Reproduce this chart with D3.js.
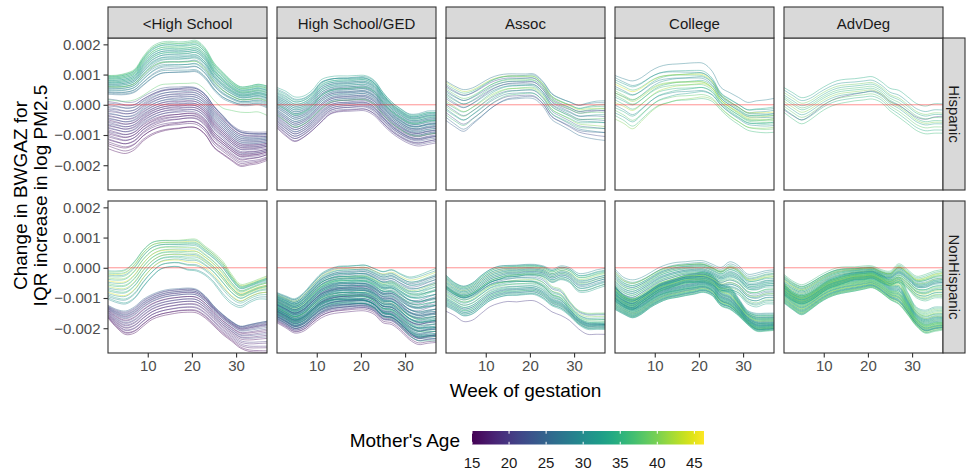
<!DOCTYPE html>
<html><head><meta charset="utf-8">
<script src="https://cdn.jsdelivr.net/npm/d3@7"></script>
<style>body{margin:0;background:#fff;} svg{display:block;font-family:"Liberation Sans",Arial,sans-serif;}</style>
</head><body><svg id="c" width="966" height="474"></svg>
<script>
// ---------------- DATA ----------------
const educationLevels = ["<High School", "High School/GED", "Assoc", "College", "AdvDeg"];
const ethnicities = ["Hispanic", "NonHispanic"];
const weeks = [1,3,5,7,9,11,13,15,17,19,21,23,25,27,29,31,33,35,37];
const xTicks = [10, 20, 30];
const yTicks = [-0.002, -0.001, 0, 0.001, 0.002];
const ageTicks = [15, 20, 25, 30, 35, 40, 45];
const ageDomain = [15, 46.3];

// envelope curves (value at each week);
// lines = [mother's age, position in envelope at week 1, position in envelope at week 37]
const hispLtHS_young_low  = [-0.00145,-0.00156,-0.00162,-0.0015,-0.00121,-0.00102,-0.00091,-0.00085,-0.00082,-0.00078,-0.0008,-0.00102,-0.00145,-0.00167,-0.00187,-0.00205,-0.002,-0.00195,-0.00184];
const hispLtHS_young_high = [0.00019,0.00016,0.0001,0.00012,0.0003,0.00046,0.00058,0.00063,0.00064,0.00066,0.00062,0.00042,0.00002,-0.0003,-0.00062,-0.00082,-0.00088,-0.0009,-0.0009];
const hispLtHS_young_lines = [[15,0.0,0.05],[16,0.06,0.0],[15,0.1,0.2],[17,0.14,0.08],[16,0.18,0.3],[18,0.2,0.12],[17,0.24,0.35],[19,0.27,0.2],[16,0.3,0.4],[18,0.33,0.25],[20,0.35,0.5],[17,0.38,0.3],[19,0.41,0.55],[21,0.43,0.35],[18,0.46,0.6],[20,0.48,0.4],[22,0.5,0.65],[19,0.53,0.45],[21,0.55,0.7],[17,0.58,0.5],[23,0.6,0.75],[20,0.62,0.55],[22,0.65,0.8],[18,0.67,0.6],[21,0.7,0.85],[24,0.72,0.65],[19,0.75,0.9],[22,0.78,0.7],[20,0.8,0.95],[23,0.83,0.75],[21,0.86,1.0],[25,0.89,0.8],[22,0.92,0.95],[20,0.95,0.85],[23,1.0,0.92]];
const hispLtHS_old_low  = [0.00035,0.00033,0.00033,0.0004,0.00062,0.00085,0.001,0.00103,0.00104,0.00105,0.00106,0.00084,0.00046,0.00019,0.00006,-0.00003,-0.00003,0.0,-0.0001];
const hispLtHS_old_high = [0.00097,0.00098,0.00104,0.00117,0.0016,0.00193,0.00207,0.0021,0.00208,0.0021,0.00213,0.00188,0.00139,0.00108,0.00079,0.0006,0.00062,0.00068,0.00062];
const hispLtHS_old_lines = [[26,0.0,0.1],[27,0.06,0.0],[25,0.1,0.25],[29,0.14,0.05],[28,0.2,0.35],[30,0.25,0.15],[27,0.3,0.45],[31,0.34,0.2],[29,0.38,0.55],[32,0.42,0.3],[30,0.46,0.6],[33,0.5,0.4],[28,0.53,0.7],[31,0.56,0.45],[34,0.6,0.75],[32,0.63,0.5],[30,0.66,0.8],[35,0.7,0.55],[33,0.73,0.85],[31,0.76,0.6],[36,0.8,0.9],[34,0.83,0.65],[32,0.86,0.95],[37,0.89,0.7],[35,0.92,1.0],[33,0.95,0.8],[38,0.98,0.9],[36,1.0,1.0],[38,-0.3,-0.35],[40,0.4,0.3]];

const hispHS_low  = [-0.0008,-0.00107,-0.00126,-0.00113,-0.0009,-0.00063,-0.00036,-0.00027,-0.00025,-0.00023,-0.00023,-0.00038,-0.00068,-0.00095,-0.00115,-0.0013,-0.00137,-0.00132,-0.00126];
const hispHS_high = [0.00057,0.00045,0.00027,0.0003,0.0005,0.00085,0.00095,0.00098,0.00098,0.001,0.001,0.00085,0.00045,0.00012,-0.0001,-0.00028,-0.00028,-0.0002,-0.0002];
const hispHS_lines = [[17,0.02,0.1],[19,0.05,0.0],[18,0.08,0.2],[21,0.1,0.05],[20,0.13,0.25],[22,0.15,0.1],[19,0.18,0.3],[23,0.2,0.15],[21,0.22,0.35],[24,0.25,0.2],[20,0.27,0.4],[22,0.3,0.22],[25,0.32,0.45],[23,0.34,0.3],[21,0.37,0.5],[26,0.39,0.33],[24,0.41,0.55],[22,0.43,0.38],[27,0.45,0.6],[25,0.47,0.4],[23,0.5,0.62],[28,0.52,0.45],[26,0.54,0.68],[24,0.56,0.5],[29,0.58,0.72],[27,0.6,0.52],[25,0.62,0.75],[30,0.64,0.58],[28,0.66,0.8],[26,0.68,0.6],[31,0.7,0.85],[29,0.72,0.65],[27,0.74,0.88],[32,0.76,0.7],[30,0.78,0.92],[28,0.8,0.75],[33,0.82,0.95],[31,0.85,0.78],[29,0.87,1.0],[34,0.9,0.82],[32,0.93,0.9],[30,0.96,0.85],[36,0.6,0.7],[38,0.35,0.3],[33,1.0,0.95]];

const hispAssoc_low  = [-0.00052,-0.00074,-0.00091,-0.00069,-0.00045,-0.0002,0.0,0.00013,0.00016,0.00019,0.00016,-0.00009,-0.00052,-0.00069,-0.00085,-0.00102,-0.0011,-0.00115,-0.00118];
const hispAssoc_high = [0.00079,0.00062,0.00051,0.00057,0.00073,0.0009,0.001,0.00104,0.00104,0.00104,0.00104,0.00079,0.0004,0.00024,0.00013,0.00002,0.00008,0.00013,0.00013];
const hispAssoc_lines = [[24,0.0,0.2],[26,0.08,0.0],[36,0.14,0.3],[22,0.2,0.1],[34,0.26,0.45],[28,0.3,0.2],[38,0.35,0.55],[25,0.4,0.3],[32,0.45,0.65],[40,0.5,0.35],[23,0.55,0.75],[30,0.6,0.45],[36,0.64,0.8],[26,0.68,0.5],[33,0.72,0.9],[24,0.76,0.6],[38,0.8,0.7],[29,0.84,1.0],[22,0.88,0.75],[35,0.92,0.85],[42,0.97,0.8],[27,1.0,0.95]];

const hispCollege_low  = [-0.00047,-0.00063,-0.00082,-0.00058,-0.0003,-0.00009,0.0,0.00008,0.0001,0.00013,0.00016,0.00008,-0.0002,-0.00047,-0.00067,-0.00085,-0.00091,-0.00093,-0.00091];
const hispCollege_high = [0.00097,0.00086,0.00079,0.0009,0.00111,0.00126,0.00133,0.00135,0.00137,0.00139,0.00137,0.00111,0.00057,0.0004,0.00024,0.00008,0.00013,0.00016,0.00021];
const hispCollege_lines = [[40,0.0,0.15],[36,0.08,0.0],[32,0.14,0.3],[38,0.2,0.1],[34,0.26,0.4],[30,0.32,0.2],[42,0.38,0.5],[35,0.44,0.25],[33,0.5,0.55],[37,0.55,0.3],[31,0.6,0.65],[39,0.65,0.35],[34,0.7,0.75],[29,0.75,0.45],[44,0.8,0.6],[36,0.85,0.5],[32,0.9,0.7],[30,0.95,0.55],[28,1.0,1.0],[41,0.6,0.4]];

const hispAdv_low  = [-0.00025,-0.00047,-0.00063,-0.00049,-0.00027,-0.00009,0.00002,0.00008,0.00013,0.00016,0.00019,0.00008,-0.0002,-0.00041,-0.00063,-0.00085,-0.00096,-0.00094,-0.00094];
const hispAdv_high = [0.00057,0.0004,0.00024,0.00032,0.00051,0.00068,0.00081,0.00086,0.00088,0.00092,0.00095,0.00079,0.00057,0.00051,0.0003,0.00008,0.0,0.00008,0.00008];
const hispAdv_lines = [[21,0.1,0.55],[36,0.0,0.0],[34,0.15,0.1],[38,0.25,0.2],[32,0.35,0.3],[40,0.45,0.35],[35,0.55,0.4],[37,0.62,0.5],[33,0.7,0.6],[39,0.8,0.65],[31,0.9,0.75],[34,1.0,0.95]];

const nonLtHS_young_low  = [-0.00166,-0.00199,-0.00221,-0.00216,-0.00193,-0.00171,-0.0016,-0.00154,-0.00149,-0.00147,-0.00149,-0.00166,-0.00193,-0.00221,-0.00243,-0.00266,-0.00277,-0.00279,-0.0028];
const nonLtHS_young_high = [-0.00124,-0.00138,-0.00143,-0.00129,-0.00104,-0.00088,-0.00077,-0.00071,-0.00069,-0.00067,-0.00071,-0.00093,-0.00127,-0.00154,-0.00177,-0.00193,-0.00188,-0.00182,-0.00177];
const nonLtHS_young_lines = [[15,0.0,0.0],[17,0.05,0.15],[16,0.1,0.05],[18,0.15,0.3],[19,0.2,0.2],[16,0.25,0.45],[20,0.3,0.35],[17,0.35,0.55],[21,0.4,0.5],[18,0.45,0.65],[22,0.5,0.6],[19,0.55,0.75],[16,0.6,0.7],[20,0.65,0.85],[23,0.7,0.8],[18,0.74,0.9],[21,0.78,0.88],[24,0.82,0.95],[19,0.86,0.92],[22,0.9,1.0],[20,0.95,0.97],[25,1.0,1.0]];
const nonLtHS_old_low  = [-0.00104,-0.00116,-0.00121,-0.00104,-0.00066,-0.00032,-0.00007,0.0,0.0,-0.0001,-0.00013,-0.00027,-0.00054,-0.00093,-0.00121,-0.00132,-0.00116,-0.00104,-0.00104];
const nonLtHS_old_high = [-0.0001,-0.0001,-0.00004,0.00023,0.00062,0.00087,0.00093,0.00093,0.00093,0.00096,0.00096,0.00073,0.00051,0.00023,-0.00021,-0.00054,-0.00049,-0.00038,-0.00027];
const nonLtHS_old_lines = [[30,0.0,0.1],[32,0.05,0.0],[29,0.1,0.3],[34,0.15,0.2],[31,0.2,0.45],[44,0.25,0.3],[33,0.3,0.55],[36,0.35,0.4],[30,0.4,0.6],[42,0.45,0.5],[35,0.5,0.7],[38,0.55,0.55],[32,0.6,0.75],[45,0.65,0.6],[34,0.7,0.85],[40,0.75,0.7],[37,0.8,0.9],[31,0.85,0.8],[43,0.88,0.95],[36,0.92,0.85],[39,0.96,1.0],[33,1.0,0.9]];

const nonHS_low  = [-0.00182,-0.00199,-0.00216,-0.0021,-0.00188,-0.00166,-0.00154,-0.00149,-0.00146,-0.00143,-0.00143,-0.00154,-0.00182,-0.00188,-0.0021,-0.00238,-0.00254,-0.0025,-0.00247];
const nonHS_high = [-0.00082,-0.00093,-0.00102,-0.00082,-0.00049,-0.00018,-0.00002,0.00007,0.00008,0.0001,0.00011,0.0,-0.0001,-0.00004,-0.00018,-0.00029,-0.00024,-0.00013,-0.00002];
const nonHS_lines = [[17,0.0,0.0],[19,0.03,0.1],[16,0.06,0.02],[22,0.08,0.15],[20,0.1,0.05],[25,0.12,0.2],[18,0.14,0.08],[28,0.16,0.1],[23,0.18,0.25],[30,0.2,0.12],[21,0.21,0.3],[27,0.23,0.15],[32,0.25,0.18],[24,0.27,0.35],[29,0.28,0.2],[19,0.3,0.4],[31,0.32,0.22],[26,0.33,0.45],[35,0.35,0.25],[22,0.37,0.5],[28,0.38,0.28],[33,0.4,0.3],[25,0.42,0.55],[30,0.43,0.32],[20,0.45,0.6],[38,0.47,0.35],[27,0.48,0.62],[32,0.5,0.38],[24,0.52,0.65],[29,0.53,0.4],[34,0.55,0.7],[26,0.57,0.42],[31,0.58,0.72],[22,0.6,0.45],[36,0.62,0.75],[28,0.63,0.5],[33,0.65,0.78],[25,0.67,0.52],[40,0.68,0.8],[30,0.7,0.55],[27,0.72,0.82],[35,0.74,0.6],[23,0.76,0.85],[32,0.78,0.65],[29,0.8,0.88],[37,0.82,0.7],[26,0.84,0.9],[31,0.86,0.75],[34,0.88,0.92],[28,0.9,0.8],[42,0.92,0.95],[30,0.94,0.85],[33,0.96,1.0],[27,0.98,0.9],[31,1.0,0.97],[29,0.5,0.3],[30,0.35,0.12],[28,0.25,0.08],[31,0.45,0.2],[26,0.6,0.35],
  [24,0.15,0.05],[27,0.22,0.1],[29,0.3,0.15],[26,0.36,0.18],[31,0.4,0.22],[28,0.46,0.25],[33,0.5,0.3],[30,0.55,0.35],[25,0.6,0.4],[32,0.65,0.45],[29,0.7,0.5],[35,0.75,0.55],[27,0.8,0.6],[31,0.85,0.65],[21,0.2,0.1],[23,0.28,0.18],[20,0.38,0.28],[34,0.42,0.08],[36,0.52,0.15],[30,0.58,0.2],[28,0.62,0.28],[32,0.68,0.32],[26,0.72,0.38],[29,0.78,0.42],[33,0.82,0.5],[31,0.88,0.58],[30,0.92,0.7],[28,0.45,0.05],[34,0.33,0.02],[30,0.4,0.1]];

const nonAssoc_top    = [-0.00024,-0.00049,-0.0006,-0.00049,-0.00024,-0.00004,0.00007,0.00009,0.0001,0.00012,0.00012,0.00007,-0.00004,0.00007,0.00001,-0.00018,-0.00016,-0.00007,-0.00002];
const nonAssoc_bottom = [-0.00127,-0.00143,-0.0016,-0.00154,-0.00132,-0.0011,-0.00099,-0.00093,-0.00093,-0.0009,-0.0009,-0.00104,-0.00127,-0.00138,-0.0016,-0.00188,-0.00204,-0.00204,-0.00204];
const nonAssoc_hiEnd_low = [-0.0007,-0.0009,-0.001,-0.0009,-0.0007,-0.0005,-0.0004,-0.0003,-0.0003,-0.00025,-0.00025,-0.0003,-0.0005,-0.0004,-0.0005,-0.0008,-0.0008,-0.0007,-0.0006];
const nonAssoc_loEnd_high = [-0.0006,-0.0008,-0.0009,-0.0008,-0.0006,-0.0004,-0.0003,-0.00025,-0.0002,-0.0002,-0.0002,-0.0003,-0.0006,-0.0007,-0.0011,-0.0014,-0.0015,-0.0015,-0.0015];
const nonAssoc_hiEnd_lines = [[28,0.0,0.1],[33,0.06,0.0],[30,0.12,0.25],[36,0.18,0.1],[27,0.24,0.4],[32,0.3,0.2],[38,0.36,0.5],[29,0.42,0.3],[34,0.48,0.6],[31,0.54,0.4],[40,0.6,0.7],[28,0.66,0.5],[35,0.72,0.8],[30,0.78,0.6],[33,0.84,0.9],[37,0.9,0.75],[29,0.95,1.0],[32,1.0,0.85]];
const nonAssoc_loEnd_lines = [[20,-0.25,-0.3],[30,0.0,0.1],[32,0.04,0.0],[28,0.08,0.2],[34,0.12,0.05],[31,0.16,0.25],[29,0.2,0.1],[33,0.24,0.3],[36,0.28,0.15],[30,0.32,0.35],[27,0.36,0.2],[35,0.4,0.45],[32,0.44,0.25],[38,0.5,0.6],[29,0.55,0.3],[31,0.6,0.7],[40,0.65,0.8],[33,0.7,0.35],[26,0.75,0.9],[37,0.8,0.5],[30,0.85,0.95],[34,0.9,0.4],[39,0.94,1.0],[28,0.97,0.3],[32,1.0,0.6]];

const nonCollege_top    = [-0.00004,-0.00032,-0.0004,-0.00032,-0.00016,0.00001,0.00012,0.00018,0.0002,0.00023,0.00023,0.00012,0.00001,0.0002,0.00007,-0.00021,-0.00018,-0.0001,-0.00007];
const nonCollege_bottom = [-0.00138,-0.00154,-0.00166,-0.00154,-0.00132,-0.00116,-0.00104,-0.00099,-0.00093,-0.00088,-0.00082,-0.00093,-0.00127,-0.00138,-0.0016,-0.00188,-0.0021,-0.0021,-0.00207];
const nonCollege_hiEnd_low = [-0.0011,-0.0013,-0.0014,-0.0012,-0.001,-0.0008,-0.0007,-0.0006,-0.0005,-0.0005,-0.0005,-0.0006,-0.0008,-0.0008,-0.0009,-0.0012,-0.0013,-0.0012,-0.0012];
const nonCollege_loEnd_high = [-0.0006,-0.0009,-0.001,-0.0009,-0.0007,-0.0005,-0.0004,-0.0003,-0.0002,-0.00015,-0.0001,-0.0002,-0.0005,-0.0006,-0.001,-0.0014,-0.0015,-0.0015,-0.0015];
const nonCollege_hiEnd_lines = [[30,0.0,0.1],[33,0.03,0.0],[29,0.07,0.2],[35,0.1,0.05],[31,0.13,0.3],[38,0.17,0.12],[28,0.2,0.35],[32,0.23,0.18],[36,0.27,0.45],[30,0.3,0.25],[34,0.33,0.55],[40,0.37,0.3],[31,0.4,0.6],[27,0.43,0.38],[33,0.47,0.65],[37,0.5,0.42],[29,0.53,0.7],[32,0.57,0.5],[35,0.6,0.8],[30,0.63,0.55],[39,0.67,0.85],[34,0.7,0.6],[28,0.73,0.88],[31,0.77,0.65],[36,0.8,0.9],[33,0.83,0.7],[30,0.87,0.95],[42,0.9,0.8],[32,0.94,0.75],[29,1.0,1.0]];
const nonCollege_loEnd_lines = [[31,0.0,0.05],[34,0.02,0.0],[29,0.05,0.12],[36,0.07,0.03],[32,0.09,0.15],[30,0.12,0.08],[38,0.14,0.2],[33,0.16,0.1],[28,0.19,0.25],[35,0.21,0.12],[31,0.23,0.3],[40,0.26,0.15],[32,0.28,0.35],[30,0.3,0.18],[34,0.33,0.4],[37,0.35,0.2],[29,0.37,0.45],[33,0.4,0.22],[31,0.42,0.5],[36,0.44,0.25],[27,0.47,0.55],[32,0.49,0.28],[35,0.51,0.6],[30,0.54,0.3],[39,0.56,0.65],[33,0.58,0.33],[31,0.61,0.7],[28,0.63,0.35],[34,0.65,0.75],[36,0.68,0.4],[30,0.7,0.8],[32,0.72,0.42],[38,0.75,0.85],[29,0.77,0.45],[33,0.79,0.9],[35,0.82,0.5],[31,0.84,0.95],[41,0.86,0.55],[30,0.89,1.0],[34,0.91,0.6],[32,0.93,0.65],[37,0.96,0.7],[29,0.98,0.75],[33,1.0,0.85],[31,0.5,0.1]];

const nonAdv_top    = [-0.00022,-0.00044,-0.00056,-0.00044,-0.00026,-0.00011,0.0,0.00003,0.00003,0.00006,0.00006,-0.00006,-0.00011,0.00013,-0.00006,-0.00028,-0.00022,-0.00011,-0.00006];
const nonAdv_bottom = [-0.00117,-0.00139,-0.00156,-0.00139,-0.00117,-0.001,-0.00089,-0.00083,-0.00078,-0.00072,-0.00067,-0.00083,-0.00106,-0.00122,-0.00156,-0.00194,-0.00217,-0.00211,-0.00206];
const nonAdv_hiEnd_low = [-0.0009,-0.0011,-0.0012,-0.0011,-0.0009,-0.0007,-0.0006,-0.0005,-0.0004,-0.0004,-0.00035,-0.0005,-0.0006,-0.0005,-0.0007,-0.001,-0.0011,-0.001,-0.001];
const nonAdv_loEnd_high = [-0.0005,-0.0008,-0.0009,-0.0008,-0.0006,-0.0004,-0.0003,-0.0002,-0.00015,-0.0001,-0.0001,-0.0002,-0.0004,-0.0003,-0.0008,-0.0013,-0.0014,-0.0013,-0.0013];
const nonAdv_hiEnd_lines = [[32,0.0,0.1],[35,0.03,0.0],[30,0.07,0.2],[38,0.1,0.05],[33,0.13,0.3],[40,0.17,0.12],[31,0.2,0.35],[36,0.23,0.18],[34,0.27,0.45],[42,0.3,0.25],[29,0.33,0.55],[37,0.37,0.3],[33,0.4,0.6],[39,0.43,0.38],[31,0.47,0.65],[35,0.5,0.42],[41,0.53,0.7],[32,0.57,0.5],[36,0.6,0.8],[30,0.63,0.55],[38,0.67,0.85],[34,0.7,0.6],[44,0.73,0.88],[33,0.77,0.65],[37,0.8,0.9],[31,0.83,0.7],[35,0.87,0.95],[39,0.9,0.8],[32,0.94,0.75],[36,1.0,1.0]];
const nonAdv_loEnd_lines = [[33,0.0,0.05],[36,0.03,0.0],[31,0.05,0.12],[38,0.08,0.03],[34,0.1,0.15],[40,0.13,0.08],[32,0.15,0.2],[35,0.18,0.1],[37,0.2,0.25],[30,0.23,0.12],[39,0.25,0.3],[33,0.28,0.15],[36,0.3,0.35],[42,0.33,0.18],[31,0.35,0.4],[34,0.38,0.2],[38,0.4,0.45],[32,0.43,0.22],[35,0.45,0.5],[40,0.48,0.25],[33,0.5,0.55],[37,0.53,0.28],[30,0.55,0.6],[36,0.58,0.3],[34,0.6,0.65],[39,0.63,0.33],[32,0.65,0.7],[35,0.68,0.35],[41,0.7,0.75],[33,0.73,0.4],[37,0.75,0.8],[31,0.78,0.45],[36,0.8,0.85],[34,0.83,0.5],[38,0.85,0.9],[32,0.88,0.55],[35,0.9,0.95],[40,0.93,0.6],[33,0.96,1.0],[36,1.0,0.7]];

// panel table built from the arrays above
const panelBands = [
  [
    [{low:hispLtHS_young_low, high:hispLtHS_young_high, lines:hispLtHS_young_lines},{low:hispLtHS_old_low, high:hispLtHS_old_high, lines:hispLtHS_old_lines}],
    [{low:hispHS_low, high:hispHS_high, lines:hispHS_lines}],
    [{low:hispAssoc_low, high:hispAssoc_high, lines:hispAssoc_lines}],
    [{low:hispCollege_low, high:hispCollege_high, lines:hispCollege_lines}],
    [{low:hispAdv_low, high:hispAdv_high, lines:hispAdv_lines}]
  ],
  [
    [{low:nonLtHS_young_low, high:nonLtHS_young_high, lines:nonLtHS_young_lines},{low:nonLtHS_old_low, high:nonLtHS_old_high, lines:nonLtHS_old_lines}],
    [{low:nonHS_low, high:nonHS_high, lines:nonHS_lines}],
    [{low:nonAssoc_bottom, high:nonAssoc_loEnd_high, lines:nonAssoc_loEnd_lines},{low:nonAssoc_hiEnd_low, high:nonAssoc_top, lines:nonAssoc_hiEnd_lines}],
    [{low:nonCollege_bottom, high:nonCollege_loEnd_high, lines:nonCollege_loEnd_lines},{low:nonCollege_hiEnd_low, high:nonCollege_top, lines:nonCollege_hiEnd_lines}],
    [{low:nonAdv_bottom, high:nonAdv_loEnd_high, lines:nonAdv_loEnd_lines},{low:nonAdv_hiEnd_low, high:nonAdv_top, lines:nonAdv_hiEnd_lines}]
  ]
];

// ---------------- DRAW ----------------
const svg = d3.select('#c');
const colLeft = 108, panelW = 159, gapX = 10;
const rowTop = [38, 201], panelH = 152;
const stripTop = 7, stripH = 31, rStripW = 22;
const xBase = d3.scaleLinear().domain([1, 37]);
const yBase = d3.scaleLinear().domain([-0.00282, 0.00221]);
const color = d3.scaleSequential(d3.interpolateViridis).domain(ageDomain);
const fmt = d3.format(".3f");
const tickCol = "#4d4d4d", frameCol = "#333333";
const lastWeek = weeks[weeks.length - 1], firstWeek = weeks[0];

const defs = svg.append("defs");

ethnicities.forEach((eth, ri) => {
  educationLevels.forEach((edu, ci) => {
    const x0 = colLeft + ci * (panelW + gapX), y0 = rowTop[ri];
    const xs = xBase.copy().range([x0, x0 + panelW]);
    const ys = yBase.copy().range([y0 + panelH, y0]);
    const cid = `clip${ri}_${ci}`;
    defs.append("clipPath").attr("id", cid).append("rect")
      .attr("x", x0).attr("y", y0).attr("width", panelW).attr("height", panelH);
    const g = svg.append("g");
    g.append("rect").attr("x", x0).attr("y", y0).attr("width", panelW).attr("height", panelH).attr("fill", "#fff");
    const lg = g.append("g").attr("clip-path", `url(#${cid})`);
    const lineGen = d3.line().x((d, i) => xs(weeks[i])).y(d => ys(d)).curve(d3.curveCatmullRom.alpha(0.5));
    panelBands[ri][ci].forEach(band => {
      band.lines.forEach(([age, tStart, tEnd]) => {
        const vals = band.low.map((lo, i) => {
          const f = (weeks[i] - firstWeek) / (lastWeek - firstWeek);
          const t = tStart + (tEnd - tStart) * f;
          return lo + t * (band.high[i] - lo);
        });
        lg.append("path").attr("d", lineGen(vals)).attr("fill", "none")
          .attr("stroke", color(age)).attr("stroke-width", 0.75).attr("stroke-opacity", 0.55);
      });
    });
    lg.append("line").attr("x1", x0).attr("x2", x0 + panelW).attr("y1", ys(0)).attr("y2", ys(0))
      .attr("stroke", "#ff0000").attr("stroke-opacity", 0.55).attr("stroke-width", 0.8);
    g.append("rect").attr("x", x0).attr("y", y0).attr("width", panelW).attr("height", panelH)
      .attr("fill", "none").attr("stroke", frameCol).attr("stroke-width", 1.1);

    if (ri === 0) {
      svg.append("rect").attr("x", x0).attr("y", stripTop).attr("width", panelW).attr("height", stripH)
        .attr("fill", "#d9d9d9").attr("stroke", frameCol).attr("stroke-width", 1.1);
      svg.append("text").attr("x", x0 + panelW / 2).attr("y", 29.3).attr("text-anchor", "middle")
        .attr("font-size", 15).attr("fill", "#1a1a1a").text(edu);
    }
    if (ci === educationLevels.length - 1) {
      const sx = x0 + panelW;
      svg.append("rect").attr("x", sx).attr("y", y0).attr("width", rStripW).attr("height", panelH)
        .attr("fill", "#d9d9d9").attr("stroke", frameCol).attr("stroke-width", 1.1);
      svg.append("text").attr("transform", `translate(${sx + rStripW / 2 - 5},${y0 + panelH / 2}) rotate(90)`)
        .attr("text-anchor", "middle").attr("font-size", 15).attr("fill", "#1a1a1a").text(eth);
    }
    if (ci === 0) {
      const ax = svg.append("g").attr("transform", `translate(${x0},0)`)
        .call(d3.axisLeft(ys).tickValues(yTicks).tickFormat(fmt).tickSize(4.5).tickPadding(3));
      ax.select(".domain").remove();
      ax.selectAll("line").attr("stroke", frameCol).attr("stroke-width", 1.1);
      ax.selectAll("text").attr("font-size", 15).attr("fill", tickCol).attr("font-family", "Liberation Sans, Arial, sans-serif");
    }
    if (ri === ethnicities.length - 1) {
      const ax = svg.append("g").attr("transform", `translate(0,${y0 + panelH})`)
        .call(d3.axisBottom(xs).tickValues(xTicks).tickSize(4.5).tickPadding(3));
      ax.select(".domain").remove();
      ax.selectAll("line").attr("stroke", frameCol).attr("stroke-width", 1.1);
      ax.selectAll("text").attr("font-size", 15).attr("fill", tickCol).attr("font-family", "Liberation Sans, Arial, sans-serif");
    }
  });
});

const plotLeft = colLeft, plotRight = colLeft + 5 * panelW + 4 * gapX;
svg.append("text").attr("x", (plotLeft + plotRight) / 2).attr("y", 397).attr("text-anchor", "middle")
  .attr("font-size", 19).attr("fill", "#000").text("Week of gestation");
const yMid = (rowTop[0] + rowTop[1] + panelH) / 2;
svg.append("text").attr("transform", `translate(27,${yMid}) rotate(-90)`).attr("text-anchor", "middle")
  .attr("font-size", 19).attr("fill", "#000").text("Change in BWGAZ for");
svg.append("text").attr("transform", `translate(47,${yMid}) rotate(-90)`).attr("text-anchor", "middle")
  .attr("font-size", 19).attr("fill", "#000").text("IQR increase in log PM2.5");

const lx = d3.scaleLinear().domain(ageDomain).range([472, 704]);
const grad = defs.append("linearGradient").attr("id", "vir").attr("x1", "0%").attr("x2", "100%");
d3.range(0, 1.0001, 0.05).forEach(p => grad.append("stop").attr("offset", `${p * 100}%`).attr("stop-color", d3.interpolateViridis(p)));
const barY = 431, barH = 13.5;
svg.append("rect").attr("x", lx(ageDomain[0])).attr("y", barY).attr("width", lx(ageDomain[1]) - lx(ageDomain[0]))
  .attr("height", barH).attr("fill", "url(#vir)");
ageTicks.forEach(a => {
  svg.append("line").attr("x1", lx(a)).attr("x2", lx(a)).attr("y1", barY).attr("y2", barY + 2.7).attr("stroke", "#fff").attr("stroke-width", 1);
  svg.append("line").attr("x1", lx(a)).attr("x2", lx(a)).attr("y1", barY + barH - 2.7).attr("y2", barY + barH).attr("stroke", "#fff").attr("stroke-width", 1);
  svg.append("text").attr("x", lx(a)).attr("y", 467.5).attr("text-anchor", "middle").attr("font-size", 15).attr("fill", "#1a1a1a").text(a);
});
svg.append("text").attr("x", 460).attr("y", 446.5).attr("text-anchor", "end").attr("font-size", 19).attr("fill", "#000").text("Mother's Age");
</script></body></html>
